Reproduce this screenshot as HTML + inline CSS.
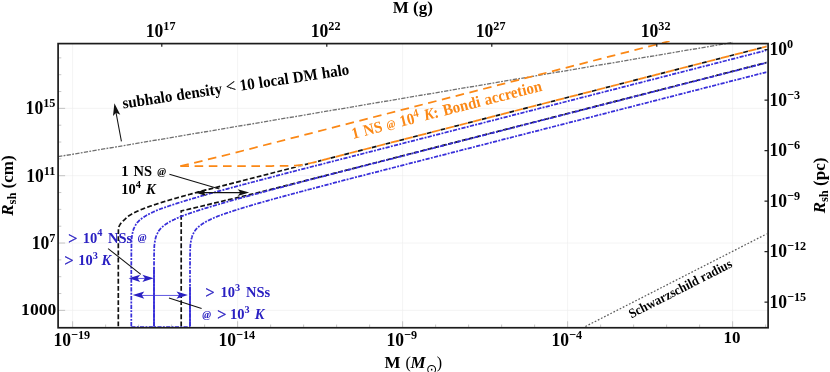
<!DOCTYPE html>
<html><head><meta charset="utf-8"><title>R_sh vs M</title>
<style>
html,body{margin:0;padding:0;background:#fff;}
body{width:830px;height:372px;overflow:hidden;position:relative;font-family:"Liberation Serif",serif;}
</style></head>
<body>
<svg width="830" height="372" viewBox="0 0 830 372" style="display:block;position:absolute;left:0;top:0;will-change:transform">
<g stroke="#ececec" stroke-width="0.6" fill="none"><line x1="72.64" y1="43.6" x2="72.64" y2="327.75"/><line x1="237.64" y1="43.6" x2="237.64" y2="327.75"/><line x1="402.64" y1="43.6" x2="402.64" y2="327.75"/><line x1="567.64" y1="43.6" x2="567.64" y2="327.75"/><line x1="732.64" y1="43.6" x2="732.64" y2="327.75"/><line x1="58.1" y1="310.37" x2="768.1" y2="310.37"/><line x1="58.1" y1="243.04" x2="768.1" y2="243.04"/><line x1="58.1" y1="175.71" x2="768.1" y2="175.71"/><line x1="58.1" y1="108.37" x2="768.1" y2="108.37"/></g>
<g stroke="#999" stroke-width="0.55" fill="none"><line x1="72.64" y1="327.75" x2="72.64" y2="321.25"/><line x1="105.64" y1="327.75" x2="105.64" y2="324.55"/><line x1="138.64" y1="327.75" x2="138.64" y2="324.55"/><line x1="171.64" y1="327.75" x2="171.64" y2="324.55"/><line x1="204.64" y1="327.75" x2="204.64" y2="324.55"/><line x1="237.64" y1="327.75" x2="237.64" y2="321.25"/><line x1="270.64" y1="327.75" x2="270.64" y2="324.55"/><line x1="303.64" y1="327.75" x2="303.64" y2="324.55"/><line x1="336.64" y1="327.75" x2="336.64" y2="324.55"/><line x1="369.64" y1="327.75" x2="369.64" y2="324.55"/><line x1="402.64" y1="327.75" x2="402.64" y2="321.25"/><line x1="435.64" y1="327.75" x2="435.64" y2="324.55"/><line x1="468.64" y1="327.75" x2="468.64" y2="324.55"/><line x1="501.64" y1="327.75" x2="501.64" y2="324.55"/><line x1="534.64" y1="327.75" x2="534.64" y2="324.55"/><line x1="567.64" y1="327.75" x2="567.64" y2="321.25"/><line x1="600.64" y1="327.75" x2="600.64" y2="324.55"/><line x1="633.64" y1="327.75" x2="633.64" y2="324.55"/><line x1="666.64" y1="327.75" x2="666.64" y2="324.55"/><line x1="699.64" y1="327.75" x2="699.64" y2="324.55"/><line x1="732.64" y1="327.75" x2="732.64" y2="321.25"/><line x1="765.64" y1="327.75" x2="765.64" y2="324.55"/><line x1="58.1" y1="310.37" x2="65.10" y2="310.37"/><line x1="58.1" y1="293.54" x2="61.30" y2="293.54"/><line x1="58.1" y1="276.70" x2="61.30" y2="276.70"/><line x1="58.1" y1="259.87" x2="61.30" y2="259.87"/><line x1="58.1" y1="243.04" x2="65.10" y2="243.04"/><line x1="58.1" y1="226.21" x2="61.30" y2="226.21"/><line x1="58.1" y1="209.37" x2="61.30" y2="209.37"/><line x1="58.1" y1="192.54" x2="61.30" y2="192.54"/><line x1="58.1" y1="175.71" x2="65.10" y2="175.71"/><line x1="58.1" y1="158.87" x2="61.30" y2="158.87"/><line x1="58.1" y1="142.04" x2="61.30" y2="142.04"/><line x1="58.1" y1="125.21" x2="61.30" y2="125.21"/><line x1="58.1" y1="108.37" x2="65.10" y2="108.37"/><line x1="58.1" y1="91.54" x2="61.30" y2="91.54"/><line x1="58.1" y1="74.71" x2="61.30" y2="74.71"/><line x1="58.1" y1="57.88" x2="61.30" y2="57.88"/></g>
<g font-family="'Liberation Serif', serif" font-weight="bold" fill="#000">
<text transform="translate(123.20,108.50) rotate(-8.55) scale(1,1.07)" text-anchor="start" font-size="15.1" style="word-spacing:0.35px">subhalo density <tspan font-weight="normal" font-size="17.5" stroke="#000" stroke-width="0.15">&lt;</tspan> 10 local DM halo</text>
<text transform="translate(353.00,139.00) rotate(-14.3) scale(1,1.07)" text-anchor="start" font-size="15.0" fill="#fb8816" style="word-spacing:0.9px">1 NS <tspan font-style="italic" font-size="10.6" dy="-1.1">@</tspan><tspan dy="1.1">​</tspan> 10<tspan font-size="10.8" dy="-5.42">4</tspan><tspan dy="5.42">​</tspan> <tspan font-style="italic">K</tspan>: Bondi accretion</text>
<text transform="translate(121.20,176.00) scale(1,1.04)" text-anchor="start" font-size="14.5" style="word-spacing:1.5px">1 NS <tspan font-style="italic" font-size="10.6" dy="-1.1">@</tspan><tspan dy="1.1">​</tspan></text>
<text transform="translate(121.20,194.00) scale(1,1.04)" text-anchor="start" font-size="14.5" style="word-spacing:1.6px">10<tspan font-size="10.3" dy="-5.87">4</tspan><tspan dy="5.87">​</tspan> <tspan font-style="italic">K</tspan></text>
<text transform="translate(68.20,242.60) scale(1,1.04)" text-anchor="start" font-size="14.5" fill="#2a20c2" style="word-spacing:1.9px"><tspan font-weight="normal" font-size="16.1" dy="0.9" stroke="#2a20c2" stroke-width="0.4">&gt;</tspan><tspan dy="-0.9">​</tspan> 10<tspan font-size="10.3" dy="-5.87">4</tspan><tspan dy="5.87">​</tspan> NSs <tspan font-style="italic" font-size="10.6" dy="-1.1">@</tspan><tspan dy="1.1">​</tspan></text>
<text transform="translate(64.60,264.80) scale(1,1.04)" text-anchor="start" font-size="14.5" fill="#2a20c2" style="word-spacing:0.9px"><tspan font-weight="normal" font-size="16.1" dy="0.9" stroke="#2a20c2" stroke-width="0.4">&gt;</tspan><tspan dy="-0.9">​</tspan> 10<tspan font-size="10.3" dy="-5.87">3</tspan><tspan dy="5.87">​</tspan> <tspan font-style="italic" dx="-0.8">K</tspan></text>
<text transform="translate(205.60,297.40) scale(1,1.04)" text-anchor="start" font-size="14.5" fill="#2a20c2" style="word-spacing:2.2px"><tspan font-weight="normal" font-size="16.1" dy="0.9" stroke="#2a20c2" stroke-width="0.4">&gt;</tspan><tspan dy="-0.9">​</tspan> 10<tspan font-size="10.3" dy="-5.87">3</tspan><tspan dy="5.87">​</tspan> NSs</text>
<text transform="translate(202.30,319.00) scale(1,1.04)" text-anchor="start" font-size="14.5" fill="#2a20c2" style="word-spacing:1.0px"><tspan font-style="italic" font-size="10.6" dy="-1.1">@</tspan><tspan dy="1.1">​</tspan><tspan dx="1.6"> </tspan><tspan font-weight="normal" font-size="16.1" dy="0.9" stroke="#2a20c2" stroke-width="0.4">&gt;</tspan><tspan dy="-0.9">​</tspan><tspan dx="-1.0"> </tspan>10<tspan font-size="10.3" dy="-5.87">3</tspan><tspan dy="5.87">​</tspan> <tspan font-style="italic" dx="0.4">K</tspan></text>
<text transform="translate(631.40,318.40) rotate(-27.0) scale(1,1.07)" text-anchor="start" font-size="12.5">Schwarzschild radius</text>
</g>
<defs><clipPath id="clip"><rect x="58.1" y="41.0" width="708.3" height="286.75"/></clipPath></defs>
<g clip-path="url(#clip)" fill="none">
<path d="M58.1,156.70 L733,42.44" stroke="#707070" stroke-width="1.3" stroke-dasharray="4.3 1.3 1.8 1.3"/>
<path d="M585.4,326.5 L768.1,233.2" stroke="#5c5c5c" stroke-width="1.25" stroke-dasharray="1.7 1.8"/>
<path d="M118.30,326.30 L118.30,252.45 L118.30,251.69 L118.30,250.95 L118.30,250.21 L118.30,249.48 L118.31,248.76 L118.31,248.05 L118.31,247.35 L118.31,246.66 L118.31,245.98 L118.31,245.31 L118.32,244.66 L118.32,244.02 L118.32,243.39 L118.32,242.78 L118.32,242.18 L118.33,241.60 L118.33,241.03 L118.33,240.47 L118.33,239.94 L118.33,239.42 L118.34,238.91 L118.34,238.43 L118.34,237.96 L118.34,237.51 L118.35,237.08 L118.35,236.67 L118.35,236.28 L118.35,235.90 L118.36,235.53 L118.36,235.17 L118.36,234.81 L118.36,234.46 L118.37,234.12 L118.37,233.79 L118.37,233.47 L118.37,233.15 L118.38,232.85 L118.38,232.55 L118.38,232.25 L118.39,231.97 L118.39,231.69 L118.39,231.41 L118.40,231.15 L118.40,230.89 L118.40,230.64 L118.41,230.39 L118.41,230.16 L118.42,229.92 L118.42,229.70 L118.43,229.48 L118.44,229.26 L118.44,229.05 L118.45,228.85 L118.46,228.65 L118.47,228.46 L118.50,228.26 L118.53,228.07 L118.56,227.88 L118.61,227.69 L118.65,227.50 L118.71,227.31 L118.76,227.13 L118.82,226.95 L118.89,226.77 L118.96,226.60 L119.03,226.43 L119.10,226.26 L119.18,226.09 L119.25,225.93 L119.33,225.77 L119.41,225.61 L119.49,225.46 L119.57,225.31 L119.65,225.16 L119.73,225.02 L119.81,224.88 L119.89,224.75 L119.97,224.61 L120.04,224.49 L120.11,224.36 L120.19,224.24 L120.26,224.13 L120.34,224.01 L120.41,223.89 L120.49,223.78 L120.57,223.67 L120.65,223.56 L120.74,223.45 L120.82,223.35 L120.90,223.24 L120.99,223.14 L121.07,223.04 L121.16,222.94 L121.24,222.84 L121.33,222.75 L121.42,222.65 L121.50,222.56 L121.59,222.46 L121.68,222.37 L121.76,222.28 L121.85,222.19 L121.93,222.10 L122.02,222.01 L122.10,221.93 L122.19,221.84 L122.27,221.76 L122.35,221.68 L122.43,221.59 L122.50,221.52 L122.58,221.44 L122.65,221.37 L122.73,221.30 L122.80,221.23 L122.87,221.16 L122.95,221.09 L123.02,221.03 L123.09,220.96 L123.16,220.90 L123.23,220.83 L123.31,220.77 L123.38,220.70 L123.45,220.64 L123.53,220.57 L123.61,220.50 L123.69,220.43 L123.77,220.36 L123.85,220.29 L123.93,220.21 L124.02,220.13 L124.11,220.05 L124.21,219.97 L124.30,219.88 L124.40,219.79 L124.50,219.69 L124.62,219.58 L124.74,219.47 L124.87,219.34 L125.00,219.21 L125.14,219.08 L125.28,218.94 L125.43,218.79 L125.58,218.65 L125.73,218.50 L125.89,218.34 L126.04,218.19 L126.20,218.04 L126.36,217.88 L126.52,217.73 L126.68,217.58 L126.83,217.44 L126.98,217.29 L127.13,217.16 L127.28,217.02 L127.42,216.90 L127.56,216.78 L127.69,216.67 L127.81,216.56 L127.93,216.47 L128.04,216.38 L128.14,216.31 L128.24,216.24 L128.33,216.18 L128.42,216.12 L128.50,216.06 L128.58,216.01 L128.66,215.96 L128.73,215.91 L128.80,215.86 L128.87,215.81 L128.94,215.77 L129.01,215.73 L129.08,215.68 L129.14,215.64 L129.21,215.60 L129.28,215.56 L129.35,215.52 L129.42,215.48 L129.49,215.43 L129.57,215.39 L129.64,215.34 L129.72,215.29 L129.80,215.24 L129.89,215.19 L129.98,215.13 L130.08,215.08 L130.18,215.02 L130.28,214.95 L130.40,214.88 L130.51,214.81 L130.63,214.74 L130.75,214.66 L130.88,214.59 L131.01,214.51 L131.15,214.42 L131.29,214.34 L131.43,214.25 L131.58,214.17 L131.73,214.08 L131.88,213.99 L132.04,213.89 L132.20,213.80 L132.36,213.71 L132.53,213.61 L132.70,213.52 L132.87,213.42 L133.04,213.32 L133.22,213.22 L133.40,213.13 L133.58,213.03 L133.77,212.93 L133.96,212.83 L134.15,212.73 L134.34,212.63 L134.54,212.53 L134.74,212.43 L134.95,212.33 L135.17,212.22 L135.39,212.12 L135.61,212.01 L135.85,211.90 L136.09,211.79 L136.33,211.68 L136.58,211.56 L136.83,211.45 L137.08,211.33 L137.34,211.21 L137.61,211.10 L137.88,210.98 L138.15,210.86 L138.42,210.74 L138.70,210.62 L138.98,210.50 L139.26,210.38 L139.54,210.26 L139.83,210.14 L140.11,210.02 L140.40,209.90 L140.69,209.78 L140.98,209.66 L141.28,209.54 L141.58,209.42 L141.90,209.29 L142.23,209.16 L142.56,209.02 L142.91,208.89 L143.26,208.75 L143.62,208.61 L143.98,208.47 L144.34,208.33 L144.71,208.19 L145.08,208.04 L145.46,207.90 L145.83,207.76 L146.20,207.62 L146.56,207.49 L146.92,207.35 L147.28,207.22 L147.63,207.09 L147.98,206.96 L148.31,206.84 L148.64,206.72 L148.96,206.61 L149.26,206.50 L149.56,206.40 L149.84,206.30 L150.10,206.21 L150.35,206.12 L150.59,206.04 L150.82,205.96 L151.05,205.89 L151.26,205.81 L151.47,205.75 L151.67,205.68 L151.87,205.61 L152.06,205.55 L152.24,205.49 L152.43,205.43 L152.61,205.37 L152.80,205.31 L152.98,205.25 L153.16,205.19 L153.34,205.13 L153.53,205.07 L153.72,205.01 L153.91,204.95 L154.11,204.88 L154.31,204.82 L154.52,204.75 L154.74,204.68 L154.97,204.61 L155.20,204.53 L155.45,204.45 L155.70,204.37 L155.97,204.28 L156.26,204.19 L156.55,204.09 L156.86,203.99 L157.17,203.88 L157.50,203.78 L157.83,203.67 L158.18,203.55 L158.53,203.44 L158.88,203.32 L159.24,203.21 L159.60,203.09 L159.97,202.97 L160.33,202.85 L160.70,202.73 L161.07,202.61 L161.44,202.49 L161.80,202.38 L162.17,202.26 L162.52,202.14 L162.88,202.03 L163.22,201.92 L163.57,201.82 L163.90,201.71 L164.22,201.61 L164.54,201.51 L164.84,201.42 L165.14,201.33 L165.43,201.24 L165.72,201.16 L166.00,201.07 L166.27,200.99 L166.54,200.91 L166.81,200.83 L167.07,200.75 L167.34,200.67 L167.60,200.59 L167.86,200.52 L168.12,200.44 L168.38,200.36 L168.64,200.28 L168.91,200.20 L169.18,200.13 L169.45,200.05 L169.72,199.97 L170.01,199.88 L170.29,199.80 L170.58,199.72 L170.88,199.63 L171.19,199.54 L171.51,199.45 L171.83,199.35 L172.17,199.26 L172.51,199.16 L172.85,199.06 L173.20,198.96 L173.55,198.86 L173.91,198.75 L174.28,198.65 L174.64,198.54 L175.02,198.44 L175.40,198.33 L175.79,198.22 L176.18,198.11 L176.58,197.99 L176.99,197.88 L177.40,197.76 L177.83,197.64 L178.26,197.52 L178.70,197.39 L179.14,197.27 L179.60,197.14 L180.07,197.01 L180.55,196.87 L181.03,196.74 L181.53,196.60 L182.04,196.46 L182.56,196.32 L183.08,196.17 L183.63,196.02 L184.19,195.86 L184.77,195.70 L185.37,195.54 L185.98,195.37 L186.62,195.20 L187.27,195.02 L187.94,194.84 L188.62,194.65 L189.32,194.46 L190.04,194.26 L190.77,194.07 L191.51,193.86 L192.27,193.66 L193.05,193.45 L193.84,193.24 L194.64,193.02 L195.45,192.80 L196.28,192.58 L197.12,192.35 L197.97,192.12 L198.83,191.89 L199.71,191.65 L200.59,191.42 L201.48,191.18 L202.39,190.93 L203.30,190.69 L318.00,161.33" stroke="#111" stroke-width="1.7" stroke-dasharray="4.85 2.25"/>
<path d="M318.00,161.33 L768.1,46.1" stroke="#111" stroke-width="1.7" stroke-dasharray="4.85 2.25" stroke-dashoffset="1.266"/>
<path d="M181.2,326.3 L181.2,211 L262,191.76 L768.1,62.20" stroke="#111" stroke-width="1.7" stroke-dasharray="4.85 2.25" stroke-linejoin="miter"/>
<path d="M131.30,326.30 L131.30,272.92 L131.30,271.75 L131.30,270.59 L131.30,269.45 L131.30,268.33 L131.30,267.21 L131.31,266.12 L131.31,265.04 L131.31,263.99 L131.31,262.95 L131.31,261.92 L131.32,260.92 L131.32,259.94 L131.32,258.98 L131.33,258.04 L131.33,257.12 L131.33,256.22 L131.34,255.35 L131.34,254.50 L131.35,253.67 L131.35,252.87 L131.36,252.08 L131.36,251.29 L131.37,250.50 L131.38,249.72 L131.38,248.94 L131.39,248.18 L131.41,247.43 L131.42,246.69 L131.43,245.97 L131.44,245.27 L131.46,244.59 L131.47,243.93 L131.49,243.30 L131.50,242.70 L131.52,242.13 L131.53,241.59 L131.55,241.08 L131.57,240.62 L131.58,240.19 L131.60,239.81 L131.62,239.45 L131.64,239.12 L131.66,238.80 L131.68,238.50 L131.71,238.22 L131.73,237.94 L131.76,237.68 L131.79,237.43 L131.82,237.19 L131.85,236.96 L131.88,236.73 L131.91,236.50 L131.95,236.28 L131.98,236.06 L132.02,235.83 L132.05,235.61 L132.09,235.38 L132.13,235.14 L132.17,234.90 L132.21,234.65 L132.25,234.39 L132.30,234.13 L132.35,233.86 L132.40,233.59 L132.46,233.31 L132.51,233.03 L132.58,232.76 L132.64,232.48 L132.70,232.20 L132.77,231.93 L132.83,231.66 L132.90,231.40 L132.97,231.15 L133.03,230.90 L133.10,230.66 L133.17,230.43 L133.23,230.22 L133.29,230.01 L133.35,229.82 L133.41,229.65 L133.47,229.49 L133.52,229.33 L133.58,229.18 L133.63,229.04 L133.68,228.91 L133.73,228.78 L133.78,228.66 L133.83,228.54 L133.88,228.42 L133.93,228.30 L133.99,228.19 L134.04,228.07 L134.09,227.96 L134.15,227.84 L134.20,227.72 L134.26,227.60 L134.32,227.47 L134.38,227.34 L134.45,227.21 L134.52,227.07 L134.59,226.92 L134.66,226.77 L134.74,226.61 L134.82,226.45 L134.90,226.29 L134.98,226.12 L135.07,225.95 L135.15,225.78 L135.24,225.61 L135.33,225.44 L135.43,225.27 L135.52,225.10 L135.62,224.93 L135.72,224.76 L135.82,224.59 L135.92,224.42 L136.02,224.26 L136.12,224.10 L136.23,223.95 L136.33,223.80 L136.44,223.64 L136.55,223.49 L136.67,223.34 L136.78,223.19 L136.91,223.04 L137.03,222.89 L137.15,222.74 L137.28,222.59 L137.41,222.45 L137.54,222.30 L137.67,222.16 L137.80,222.01 L137.94,221.87 L138.07,221.74 L138.20,221.60 L138.33,221.47 L138.46,221.33 L138.59,221.21 L138.72,221.08 L138.84,220.96 L138.97,220.84 L139.08,220.73 L139.20,220.62 L139.31,220.52 L139.42,220.41 L139.53,220.31 L139.64,220.21 L139.75,220.12 L139.87,220.02 L139.98,219.92 L140.10,219.82 L140.22,219.73 L140.34,219.62 L140.47,219.52 L140.60,219.41 L140.74,219.30 L140.89,219.19 L141.04,219.07 L141.20,218.94 L141.37,218.81 L141.56,218.66 L141.77,218.50 L142.01,218.33 L142.26,218.15 L142.52,217.96 L142.79,217.77 L143.08,217.57 L143.37,217.37 L143.67,217.16 L143.98,216.96 L144.28,216.76 L144.58,216.56 L144.88,216.36 L145.18,216.17 L145.46,215.99 L145.74,215.82 L146.00,215.65 L146.25,215.51 L146.48,215.37 L146.69,215.25 L146.89,215.14 L147.08,215.04 L147.26,214.94 L147.42,214.85 L147.59,214.77 L147.74,214.68 L147.89,214.60 L148.04,214.53 L148.19,214.45 L148.34,214.38 L148.49,214.30 L148.65,214.22 L148.81,214.14 L148.98,214.06 L149.15,213.97 L149.34,213.88 L149.54,213.78 L149.75,213.68 L149.98,213.57 L150.23,213.45 L150.50,213.31 L150.81,213.16 L151.15,213.00 L151.52,212.82 L151.90,212.64 L152.31,212.44 L152.73,212.24 L153.16,212.04 L153.61,211.83 L154.06,211.62 L154.51,211.41 L154.97,211.21 L155.42,211.00 L155.87,210.80 L156.31,210.61 L156.74,210.42 L157.16,210.24 L157.56,210.08 L157.94,209.92 L158.30,209.78 L158.65,209.65 L158.99,209.51 L159.33,209.38 L159.67,209.26 L160.00,209.13 L160.33,209.01 L160.65,208.89 L160.98,208.77 L161.29,208.66 L161.61,208.54 L161.92,208.43 L162.23,208.32 L162.54,208.21 L162.85,208.10 L163.16,207.99 L163.46,207.89 L163.77,207.78 L164.07,207.67 L164.38,207.56 L164.68,207.46 L164.98,207.35 L165.27,207.25 L165.55,207.15 L165.83,207.06 L166.10,206.96 L166.38,206.87 L166.65,206.77 L166.92,206.68 L167.19,206.59 L167.46,206.49 L167.74,206.40 L168.02,206.30 L168.30,206.21 L168.59,206.11 L168.89,206.01 L169.20,205.91 L169.51,205.80 L169.84,205.69 L170.18,205.58 L170.53,205.46 L170.90,205.34 L171.29,205.21 L171.69,205.07 L172.11,204.94 L172.53,204.80 L172.97,204.65 L173.42,204.50 L173.87,204.36 L174.33,204.21 L174.80,204.06 L175.26,203.90 L175.73,203.75 L176.20,203.60 L176.66,203.45 L177.12,203.31 L177.57,203.16 L178.01,203.02 L178.45,202.88 L178.87,202.75 L179.29,202.62 L179.71,202.49 L180.12,202.36 L180.54,202.23 L180.95,202.10 L181.36,201.97 L181.77,201.85 L182.18,201.72 L182.59,201.60 L182.99,201.47 L183.39,201.35 L183.79,201.23 L184.18,201.11 L184.57,200.99 L184.96,200.87 L185.34,200.76 L185.72,200.64 L186.09,200.53 L186.45,200.42 L186.81,200.31 L187.16,200.21 L187.50,200.11 L187.83,200.01 L188.16,199.91 L188.47,199.82 L188.78,199.73 L189.08,199.64 L189.38,199.55 L189.68,199.46 L189.98,199.37 L190.28,199.29 L190.58,199.20 L190.89,199.11 L191.20,199.02 L191.51,198.92 L191.83,198.83 L192.17,198.73 L192.51,198.63 L192.86,198.53 L193.23,198.42 L193.60,198.31 L193.97,198.20 L194.35,198.09 L194.73,197.97 L195.11,197.86 L195.50,197.74 L195.90,197.63 L196.30,197.50 L196.71,197.38 L197.13,197.26 L197.57,197.13 L198.01,196.99 L198.47,196.86 L198.95,196.72 L199.44,196.57 L199.96,196.42 L200.49,196.27 L201.04,196.11 L201.61,195.94 L202.21,195.77 L202.84,195.59 L203.51,195.40 L204.23,195.20 L204.99,194.98 L205.78,194.76 L206.62,194.52 L207.49,194.28 L208.39,194.03 L209.33,193.77 L210.30,193.50 L211.29,193.23 L212.31,192.94 L213.35,192.66 L214.42,192.36 L215.51,192.06 L216.61,191.76 L217.74,191.45 L218.87,191.14 L220.02,190.83 L221.18,190.51 L222.37,190.19 L223.60,189.86 L224.87,189.51 L226.18,189.16 L227.53,188.79 L228.92,188.42 L230.34,188.04 L231.80,187.65 L233.29,187.25 L234.81,186.84 L236.35,186.43 L237.93,186.01 L239.52,185.58 L241.14,185.15 L242.78,184.71 L244.44,184.27 L246.11,183.83 L247.80,183.38 L249.50,182.93 L251.21,182.47 L252.95,182.02 L254.71,181.55 L256.51,181.08 L258.33,180.59 L260.19,180.10 L262.08,179.61 L263.99,179.10 L265.94,178.59 L267.91,178.08 L269.91,177.55 L271.94,177.02 L273.99,176.48 L276.07,175.94 L278.17,175.39 L280.30,174.83 L282.46,174.27 L284.63,173.70 L286.83,173.13 L289.06,172.55 L291.30,171.96 L768.10,49.90" stroke="#382fda" stroke-width="1.75" stroke-dasharray="4.2 1.3 1.9 1.3"/>
<path d="M154.00,326.30 L154.00,279.61 L154.00,278.44 L154.00,277.28 L154.00,276.14 L154.00,275.01 L154.00,273.90 L154.01,272.81 L154.01,271.73 L154.01,270.67 L154.01,269.63 L154.01,268.61 L154.02,267.61 L154.02,266.63 L154.02,265.67 L154.03,264.73 L154.03,263.81 L154.03,262.91 L154.04,262.04 L154.04,261.19 L154.05,260.36 L154.05,259.56 L154.06,258.77 L154.06,257.98 L154.07,257.19 L154.08,256.41 L154.08,255.63 L154.09,254.87 L154.11,254.11 L154.12,253.38 L154.13,252.66 L154.14,251.95 L154.16,251.27 L154.17,250.62 L154.19,249.99 L154.20,249.39 L154.22,248.81 L154.23,248.28 L154.25,247.77 L154.27,247.31 L154.28,246.88 L154.30,246.50 L154.32,246.14 L154.34,245.81 L154.36,245.49 L154.38,245.19 L154.41,244.90 L154.43,244.63 L154.46,244.37 L154.49,244.12 L154.52,243.88 L154.55,243.64 L154.58,243.41 L154.61,243.19 L154.65,242.97 L154.68,242.74 L154.72,242.52 L154.75,242.30 L154.79,242.07 L154.83,241.83 L154.87,241.59 L154.91,241.34 L154.95,241.08 L155.00,240.82 L155.05,240.55 L155.10,240.28 L155.16,240.00 L155.21,239.72 L155.28,239.44 L155.34,239.17 L155.40,238.89 L155.47,238.62 L155.53,238.35 L155.60,238.09 L155.67,237.83 L155.73,237.59 L155.80,237.35 L155.87,237.12 L155.93,236.91 L155.99,236.70 L156.05,236.51 L156.11,236.34 L156.17,236.18 L156.22,236.02 L156.28,235.87 L156.33,235.73 L156.38,235.60 L156.43,235.47 L156.48,235.35 L156.53,235.23 L156.58,235.11 L156.63,234.99 L156.69,234.88 L156.74,234.76 L156.79,234.65 L156.85,234.53 L156.90,234.41 L156.96,234.29 L157.02,234.16 L157.08,234.03 L157.15,233.90 L157.22,233.75 L157.29,233.61 L157.36,233.45 L157.44,233.30 L157.52,233.14 L157.60,232.97 L157.68,232.81 L157.77,232.64 L157.85,232.47 L157.94,232.30 L158.03,232.13 L158.13,231.96 L158.22,231.79 L158.32,231.61 L158.42,231.45 L158.52,231.28 L158.62,231.11 L158.72,230.95 L158.82,230.79 L158.93,230.64 L159.03,230.48 L159.14,230.33 L159.25,230.18 L159.37,230.03 L159.48,229.88 L159.61,229.73 L159.73,229.58 L159.85,229.43 L159.98,229.28 L160.11,229.14 L160.24,228.99 L160.37,228.85 L160.50,228.70 L160.64,228.56 L160.77,228.42 L160.90,228.29 L161.03,228.15 L161.16,228.02 L161.29,227.89 L161.42,227.77 L161.54,227.65 L161.67,227.53 L161.78,227.42 L161.90,227.31 L162.01,227.20 L162.12,227.10 L162.23,227.00 L162.34,226.90 L162.45,226.81 L162.57,226.71 L162.68,226.61 L162.80,226.51 L162.92,226.41 L163.04,226.31 L163.17,226.21 L163.30,226.10 L163.44,225.99 L163.59,225.87 L163.74,225.75 L163.90,225.63 L164.07,225.50 L164.26,225.35 L164.47,225.19 L164.71,225.02 L164.96,224.84 L165.22,224.65 L165.49,224.46 L165.78,224.26 L166.07,224.06 L166.37,223.85 L166.68,223.65 L166.98,223.44 L167.28,223.24 L167.58,223.05 L167.88,222.86 L168.16,222.68 L168.44,222.50 L168.70,222.34 L168.95,222.19 L169.18,222.06 L169.39,221.94 L169.59,221.83 L169.78,221.73 L169.96,221.63 L170.12,221.54 L170.29,221.45 L170.44,221.37 L170.59,221.29 L170.74,221.22 L170.89,221.14 L171.04,221.06 L171.19,220.99 L171.35,220.91 L171.51,220.83 L171.68,220.75 L171.85,220.66 L172.04,220.57 L172.24,220.47 L172.45,220.37 L172.68,220.26 L172.93,220.13 L173.20,220.00 L173.51,219.85 L173.85,219.68 L174.22,219.51 L174.60,219.32 L175.01,219.13 L175.43,218.93 L175.86,218.73 L176.31,218.52 L176.76,218.31 L177.21,218.10 L177.67,217.90 L178.12,217.69 L178.57,217.49 L179.01,217.30 L179.44,217.11 L179.86,216.93 L180.26,216.77 L180.64,216.61 L181.00,216.47 L181.35,216.34 L181.69,216.20 L182.03,216.07 L182.37,215.95 L182.70,215.82 L183.03,215.70 L183.35,215.58 L183.68,215.46 L183.99,215.35 L184.31,215.23 L184.62,215.12 L184.93,215.01 L185.24,214.90 L185.55,214.79 L185.86,214.68 L186.16,214.57 L186.47,214.47 L186.77,214.36 L187.08,214.25 L187.38,214.15 L187.68,214.04 L187.97,213.94 L188.25,213.84 L188.53,213.75 L188.80,213.65 L189.08,213.56 L189.35,213.46 L189.62,213.37 L189.89,213.28 L190.16,213.18 L190.44,213.09 L190.72,212.99 L191.00,212.90 L191.29,212.80 L191.59,212.70 L191.90,212.60 L192.21,212.49 L192.54,212.38 L192.88,212.27 L193.23,212.15 L193.60,212.03 L193.99,211.90 L194.39,211.76 L194.81,211.63 L195.23,211.48 L195.67,211.34 L196.12,211.19 L196.57,211.05 L197.03,210.90 L197.50,210.74 L197.96,210.59 L198.43,210.44 L198.90,210.29 L199.36,210.14 L199.82,210.00 L200.27,209.85 L200.71,209.71 L201.15,209.57 L201.57,209.44 L201.99,209.31 L202.41,209.18 L202.82,209.05 L203.24,208.92 L203.65,208.79 L204.06,208.66 L204.47,208.54 L204.88,208.41 L205.29,208.28 L205.69,208.16 L206.09,208.04 L206.49,207.92 L206.88,207.80 L207.27,207.68 L207.66,207.56 L208.04,207.45 L208.42,207.33 L208.79,207.22 L209.15,207.11 L209.51,207.00 L209.86,206.90 L210.20,206.80 L210.53,206.70 L210.86,206.60 L211.17,206.51 L211.48,206.42 L211.78,206.33 L212.08,206.24 L212.38,206.15 L212.68,206.06 L212.98,205.97 L213.28,205.89 L213.59,205.80 L213.90,205.71 L214.21,205.61 L214.53,205.52 L214.87,205.42 L215.21,205.32 L215.56,205.22 L215.93,205.11 L216.30,205.00 L216.67,204.89 L217.05,204.78 L217.43,204.66 L217.81,204.55 L218.20,204.43 L218.60,204.31 L219.00,204.19 L219.41,204.07 L219.83,203.94 L220.27,203.82 L220.71,203.68 L221.17,203.55 L221.65,203.41 L222.14,203.26 L222.66,203.11 L223.19,202.96 L223.74,202.80 L224.31,202.63 L224.91,202.46 L225.54,202.28 L226.21,202.09 L226.93,201.89 L227.69,201.67 L228.48,201.45 L229.32,201.21 L230.19,200.97 L231.09,200.72 L232.03,200.46 L233.00,200.19 L233.99,199.91 L235.01,199.63 L236.05,199.34 L237.12,199.05 L238.21,198.75 L239.31,198.45 L240.44,198.14 L241.57,197.83 L242.72,197.52 L243.88,197.20 L245.07,196.88 L246.30,196.55 L247.57,196.20 L248.88,195.85 L250.23,195.48 L251.62,195.11 L253.04,194.73 L254.50,194.33 L255.99,193.93 L257.51,193.53 L259.05,193.11 L260.63,192.69 L262.22,192.27 L263.84,191.84 L265.48,191.40 L267.14,190.96 L268.81,190.51 L270.50,190.07 L272.20,189.62 L273.91,189.16 L275.65,188.70 L277.41,188.24 L279.21,187.76 L281.03,187.28 L282.89,186.79 L284.78,186.30 L286.69,185.79 L288.64,185.28 L290.61,184.76 L292.61,184.24 L294.64,183.71 L296.69,183.17 L298.77,182.63 L300.87,182.08 L303.00,181.52 L305.16,180.96 L307.33,180.39 L309.53,179.81 L311.76,179.23 L314.00,178.65 L768.10,62.40" stroke="#382fda" stroke-width="1.75" stroke-dasharray="4.2 1.3 1.9 1.3"/>
<path d="M190.00,326.30 L190.00,279.69 L190.00,278.52 L190.00,277.37 L190.00,276.22 L190.00,275.10 L190.00,273.99 L190.01,272.89 L190.01,271.82 L190.01,270.76 L190.01,269.72 L190.01,268.70 L190.02,267.69 L190.02,266.71 L190.02,265.75 L190.03,264.81 L190.03,263.89 L190.03,262.99 L190.04,262.12 L190.04,261.27 L190.05,260.44 L190.05,259.64 L190.06,258.85 L190.06,258.06 L190.07,257.27 L190.08,256.49 L190.08,255.72 L190.09,254.95 L190.11,254.20 L190.12,253.46 L190.13,252.74 L190.14,252.04 L190.16,251.36 L190.17,250.70 L190.19,250.07 L190.20,249.47 L190.22,248.90 L190.23,248.36 L190.25,247.86 L190.27,247.39 L190.28,246.96 L190.30,246.58 L190.32,246.23 L190.34,245.89 L190.36,245.57 L190.38,245.27 L190.41,244.99 L190.43,244.72 L190.46,244.46 L190.49,244.20 L190.52,243.96 L190.55,243.73 L190.58,243.50 L190.61,243.27 L190.65,243.05 L190.68,242.83 L190.72,242.61 L190.75,242.38 L190.79,242.15 L190.83,241.92 L190.87,241.67 L190.91,241.43 L190.95,241.17 L191.00,240.90 L191.05,240.63 L191.10,240.36 L191.16,240.08 L191.21,239.81 L191.28,239.53 L191.34,239.25 L191.40,238.98 L191.47,238.70 L191.53,238.44 L191.60,238.17 L191.67,237.92 L191.73,237.67 L191.80,237.43 L191.87,237.21 L191.93,236.99 L191.99,236.79 L192.05,236.60 L192.11,236.42 L192.17,236.26 L192.22,236.10 L192.28,235.96 L192.33,235.82 L192.38,235.68 L192.43,235.56 L192.48,235.43 L192.53,235.31 L192.58,235.19 L192.63,235.08 L192.69,234.96 L192.74,234.85 L192.79,234.73 L192.85,234.61 L192.90,234.50 L192.96,234.37 L193.02,234.25 L193.08,234.12 L193.15,233.98 L193.22,233.84 L193.29,233.69 L193.36,233.54 L193.44,233.38 L193.52,233.22 L193.60,233.06 L193.68,232.89 L193.77,232.72 L193.85,232.55 L193.94,232.38 L194.03,232.21 L194.13,232.04 L194.22,231.87 L194.32,231.70 L194.42,231.53 L194.52,231.36 L194.62,231.20 L194.72,231.03 L194.82,230.88 L194.93,230.72 L195.03,230.57 L195.14,230.42 L195.25,230.27 L195.37,230.12 L195.48,229.97 L195.61,229.81 L195.73,229.66 L195.85,229.52 L195.98,229.37 L196.11,229.22 L196.24,229.07 L196.37,228.93 L196.50,228.79 L196.64,228.65 L196.77,228.51 L196.90,228.37 L197.03,228.24 L197.16,228.11 L197.29,227.98 L197.42,227.85 L197.54,227.73 L197.67,227.61 L197.78,227.50 L197.90,227.39 L198.01,227.29 L198.12,227.19 L198.23,227.09 L198.34,226.99 L198.45,226.89 L198.57,226.79 L198.68,226.70 L198.80,226.60 L198.92,226.50 L199.04,226.40 L199.17,226.29 L199.30,226.19 L199.44,226.07 L199.59,225.96 L199.74,225.84 L199.90,225.71 L200.07,225.58 L200.26,225.43 L200.47,225.27 L200.71,225.10 L200.96,224.92 L201.22,224.74 L201.49,224.54 L201.78,224.34 L202.07,224.14 L202.37,223.94 L202.68,223.73 L202.98,223.53 L203.28,223.33 L203.58,223.13 L203.88,222.94 L204.16,222.76 L204.44,222.59 L204.70,222.43 L204.95,222.28 L205.18,222.14 L205.39,222.02 L205.59,221.91 L205.78,221.81 L205.96,221.71 L206.12,221.62 L206.29,221.54 L206.44,221.46 L206.59,221.38 L206.74,221.30 L206.89,221.22 L207.04,221.15 L207.19,221.07 L207.35,220.99 L207.51,220.92 L207.68,220.83 L207.85,220.75 L208.04,220.65 L208.24,220.56 L208.45,220.45 L208.68,220.34 L208.93,220.22 L209.20,220.08 L209.51,219.93 L209.85,219.77 L210.22,219.59 L210.60,219.41 L211.01,219.22 L211.43,219.02 L211.86,218.81 L212.31,218.61 L212.76,218.40 L213.21,218.19 L213.67,217.98 L214.12,217.77 L214.57,217.57 L215.01,217.38 L215.44,217.19 L215.86,217.02 L216.26,216.85 L216.64,216.70 L217.00,216.56 L217.35,216.42 L217.69,216.29 L218.03,216.16 L218.37,216.03 L218.70,215.91 L219.03,215.78 L219.35,215.66 L219.68,215.55 L219.99,215.43 L220.31,215.32 L220.62,215.20 L220.93,215.09 L221.24,214.98 L221.55,214.87 L221.86,214.77 L222.16,214.66 L222.47,214.55 L222.77,214.44 L223.08,214.34 L223.38,214.23 L223.68,214.13 L223.97,214.03 L224.25,213.93 L224.53,213.83 L224.80,213.73 L225.08,213.64 L225.35,213.55 L225.62,213.45 L225.89,213.36 L226.16,213.27 L226.44,213.17 L226.72,213.08 L227.00,212.98 L227.29,212.88 L227.59,212.78 L227.90,212.68 L228.21,212.57 L228.54,212.46 L228.88,212.35 L229.23,212.23 L229.60,212.11 L229.99,211.98 L230.39,211.85 L230.81,211.71 L231.23,211.57 L231.67,211.42 L232.12,211.28 L232.57,211.13 L233.03,210.98 L233.50,210.83 L233.96,210.68 L234.43,210.53 L234.90,210.38 L235.36,210.23 L235.82,210.08 L236.27,209.94 L236.71,209.79 L237.15,209.66 L237.57,209.52 L237.99,209.39 L238.41,209.26 L238.82,209.13 L239.24,209.00 L239.65,208.87 L240.06,208.75 L240.47,208.62 L240.88,208.49 L241.29,208.37 L241.69,208.24 L242.09,208.12 L242.49,208.00 L242.88,207.88 L243.27,207.76 L243.66,207.64 L244.04,207.53 L244.42,207.42 L244.79,207.30 L245.15,207.19 L245.51,207.09 L245.86,206.98 L246.20,206.88 L246.53,206.78 L246.86,206.69 L247.17,206.59 L247.48,206.50 L247.78,206.41 L248.08,206.32 L248.38,206.23 L248.68,206.15 L248.98,206.06 L249.28,205.97 L249.59,205.88 L249.90,205.79 L250.21,205.70 L250.53,205.60 L250.87,205.51 L251.21,205.41 L251.56,205.30 L251.93,205.19 L252.30,205.08 L252.67,204.97 L253.05,204.86 L253.43,204.75 L253.81,204.63 L254.20,204.52 L254.60,204.40 L255.00,204.28 L255.41,204.15 L255.83,204.03 L256.27,203.90 L256.71,203.77 L257.17,203.63 L257.65,203.49 L258.14,203.35 L258.66,203.20 L259.19,203.04 L259.74,202.88 L260.31,202.72 L260.91,202.54 L261.54,202.36 L262.21,202.17 L262.93,201.97 L263.69,201.76 L264.48,201.53 L265.32,201.30 L266.19,201.05 L267.09,200.80 L268.03,200.54 L269.00,200.27 L269.99,200.00 L271.01,199.72 L272.05,199.43 L273.12,199.13 L274.21,198.84 L275.31,198.53 L276.44,198.23 L277.57,197.91 L278.72,197.60 L279.88,197.29 L281.07,196.96 L282.30,196.63 L283.57,196.29 L284.88,195.93 L286.23,195.57 L287.62,195.19 L289.04,194.81 L290.50,194.42 L291.99,194.02 L293.51,193.61 L295.05,193.20 L296.63,192.78 L298.22,192.35 L299.84,191.92 L301.48,191.48 L303.14,191.04 L304.81,190.60 L306.50,190.15 L308.20,189.70 L309.91,189.25 L311.65,188.79 L313.41,188.32 L315.21,187.85 L317.03,187.37 L318.89,186.88 L320.78,186.38 L322.69,185.88 L324.64,185.37 L326.61,184.85 L328.61,184.32 L330.64,183.79 L332.69,183.25 L334.77,182.71 L336.87,182.16 L339.00,181.60 L341.16,181.04 L343.33,180.47 L345.53,179.90 L347.76,179.32 L350.00,178.73 L768.10,71.70" stroke="#382fda" stroke-width="1.75" stroke-dasharray="4.2 1.3 1.9 1.3"/>
<path d="M131.3,326.75 L190,326.75" stroke="#382fda" stroke-width="1.2" stroke-dasharray="4.2 1.3 1.9 1.3"/>
<path d="M154.0,267.5 L154.0,326.5" stroke="#382fda" stroke-width="1.75"/>
<path d="M190,286.5 L190,326.5" stroke="#382fda" stroke-width="1.75"/>
<path d="M180.40,166.00 L270.00,166.00 L272.00,166.00 L273.00,165.99 L274.00,165.99 L275.00,165.99 L276.00,165.99 L277.00,165.99 L278.00,165.99 L279.00,165.98 L280.00,165.98 L281.00,165.97 L282.00,165.97 L283.00,165.96 L284.00,165.95 L285.00,165.94 L286.00,165.93 L287.00,165.91 L288.00,165.89 L289.00,165.87 L290.00,165.84 L291.00,165.81 L292.00,165.77 L293.00,165.72 L294.00,165.66 L295.00,165.60 L296.00,165.52 L297.00,165.44 L298.00,165.34 L299.00,165.22 L300.00,165.10 L301.00,164.96 L302.00,164.81 L303.00,164.65 L304.00,164.47 L305.00,164.29 L306.00,164.09 L307.00,163.89 L308.00,163.67 L309.00,163.45 L310.00,163.23 L311.00,163.00 L312.00,162.76 L313.00,162.53 L314.00,162.28 L315.00,162.04 L316.00,161.79 L317.00,161.55 L318.00,161.30 L768.1,46.1" stroke="#fff" stroke-width="2.9" stroke-dasharray="8.6 5.6"/>
<path d="M180.40,166.00 L270.00,166.00 L272.00,166.00 L273.00,165.99 L274.00,165.99 L275.00,165.99 L276.00,165.99 L277.00,165.99 L278.00,165.99 L279.00,165.98 L280.00,165.98 L281.00,165.97 L282.00,165.97 L283.00,165.96 L284.00,165.95 L285.00,165.94 L286.00,165.93 L287.00,165.91 L288.00,165.89 L289.00,165.87 L290.00,165.84 L291.00,165.81 L292.00,165.77 L293.00,165.72 L294.00,165.66 L295.00,165.60 L296.00,165.52 L297.00,165.44 L298.00,165.34 L299.00,165.22 L300.00,165.10 L301.00,164.96 L302.00,164.81 L303.00,164.65 L304.00,164.47 L305.00,164.29 L306.00,164.09 L307.00,163.89 L308.00,163.67 L309.00,163.45 L310.00,163.23 L311.00,163.00 L312.00,162.76 L313.00,162.53 L314.00,162.28 L315.00,162.04 L316.00,161.79 L317.00,161.55 L318.00,161.30 L768.1,46.1" stroke="#fb8816" stroke-width="1.75" stroke-dasharray="8.6 5.6"/>
<path d="M180.4,166.0 Q212,158.7 243.7,150.5 L669.5,41.15" stroke="#fb8816" stroke-width="1.75" stroke-dasharray="8.6 5.6"/>
</g>
<rect x="58.1" y="43.6" width="710.0" height="284.15" fill="none" stroke="#1c1c1c" stroke-width="1.7"/>
<g stroke="#1c1c1c" stroke-width="1.2"><line x1="161.79" y1="43.6" x2="161.79" y2="46.80"/><line x1="326.79" y1="43.6" x2="326.79" y2="46.80"/><line x1="491.79" y1="43.6" x2="491.79" y2="46.80"/><line x1="656.79" y1="43.6" x2="656.79" y2="46.80"/><line x1="768.1" y1="49.64" x2="764.50" y2="49.64"/><line x1="768.1" y1="100.14" x2="764.50" y2="100.14"/><line x1="768.1" y1="150.64" x2="764.50" y2="150.64"/><line x1="768.1" y1="201.14" x2="764.50" y2="201.14"/><line x1="768.1" y1="251.63" x2="764.50" y2="251.63"/><line x1="768.1" y1="302.13" x2="764.50" y2="302.13"/></g>
<line x1="121.4" y1="141.4" x2="115.60000000000001" y2="110.3" stroke="#111" stroke-width="1.05"/>
<polygon points="114.40,103.30 120.26,114.73 116.12,112.64 112.98,116.07" fill="#111"/>
<line x1="169.4" y1="174.3" x2="219.5" y2="189.1" stroke="#111" stroke-width="1.05"/>
<line x1="201" y1="192.6" x2="243" y2="192.6" stroke="#111" stroke-width="1.05"/>
<polygon points="194.90,192.60 206.40,189.20 203.80,192.60 206.40,196.00" fill="#111"/>
<polygon points="249.20,192.60 237.70,196.00 240.30,192.60 237.70,189.20" fill="#111"/>
<line x1="136" y1="278.45" x2="146" y2="278.45" stroke="#382fda" stroke-width="0.8"/>
<polygon points="128.60,278.30 140.20,274.70 137.60,278.30 140.20,281.90" fill="#2a20c2"/>
<polygon points="153.70,278.30 142.40,281.90 145.00,278.30 142.40,274.70" fill="#2a20c2"/>
<line x1="140" y1="295.45" x2="180" y2="295.45" stroke="#382fda" stroke-width="0.8"/>
<polygon points="132.70,295.10 144.30,291.40 141.70,295.10 144.30,298.80" fill="#2a20c2"/>
<polygon points="187.90,295.10 176.50,298.80 179.10,295.10 176.50,291.40" fill="#2a20c2"/>
<line x1="108.1" y1="248.6" x2="140.8" y2="274.3" stroke="#111" stroke-width="1.05"/>
<line x1="169" y1="298.1" x2="201.6" y2="308.4" stroke="#111" stroke-width="1.05"/>
<g font-family="'Liberation Serif', serif" font-weight="bold" fill="#000">
<text transform="translate(71.74,345.60) scale(1,1.07)" text-anchor="middle" font-size="17.6">10<tspan font-size="12.2" dy="-6.45">−19</tspan><tspan dy="6.45">​</tspan></text>
<text transform="translate(236.74,345.60) scale(1,1.07)" text-anchor="middle" font-size="17.6">10<tspan font-size="12.2" dy="-6.45">−14</tspan><tspan dy="6.45">​</tspan></text>
<text transform="translate(401.74,345.60) scale(1,1.07)" text-anchor="middle" font-size="17.6">10<tspan font-size="12.2" dy="-6.45">−9</tspan><tspan dy="6.45">​</tspan></text>
<text transform="translate(566.74,345.60) scale(1,1.07)" text-anchor="middle" font-size="17.6">10<tspan font-size="12.2" dy="-6.45">−4</tspan><tspan dy="6.45">​</tspan></text>
<text transform="translate(732.04,343.10) scale(1,1.02)" text-anchor="middle" font-size="17.0">10</text>
<text transform="translate(160.59,37.00) scale(1,1.07)" text-anchor="middle" font-size="17.6">10<tspan font-size="12.2" dy="-6.45">17</tspan><tspan dy="6.45">​</tspan></text>
<text transform="translate(325.59,37.00) scale(1,1.07)" text-anchor="middle" font-size="17.6">10<tspan font-size="12.2" dy="-6.45">22</tspan><tspan dy="6.45">​</tspan></text>
<text transform="translate(490.59,37.00) scale(1,1.07)" text-anchor="middle" font-size="17.6">10<tspan font-size="12.2" dy="-6.45">27</tspan><tspan dy="6.45">​</tspan></text>
<text transform="translate(655.59,37.00) scale(1,1.07)" text-anchor="middle" font-size="17.6">10<tspan font-size="12.2" dy="-6.45">32</tspan><tspan dy="6.45">​</tspan></text>
<text transform="translate(56.30,314.80) scale(1,1.0)" text-anchor="end" font-size="17.6">1000</text>
<text transform="translate(55.40,248.84) scale(1,1.07)" text-anchor="end" font-size="17.6">10<tspan font-size="12.2" dy="-6.45">7</tspan><tspan dy="6.45">​</tspan></text>
<text transform="translate(55.40,181.51) scale(1,1.07)" text-anchor="end" font-size="17.6">10<tspan font-size="12.2" dy="-6.45">11</tspan><tspan dy="6.45">​</tspan></text>
<text transform="translate(55.40,114.17) scale(1,1.07)" text-anchor="end" font-size="17.6">10<tspan font-size="12.2" dy="-6.45">15</tspan><tspan dy="6.45">​</tspan></text>
<text transform="translate(769.40,55.04) scale(1,1.07)" text-anchor="start" font-size="17.6">10<tspan font-size="12.2" dy="-6.45">0</tspan><tspan dy="6.45">​</tspan></text>
<text transform="translate(769.40,105.54) scale(1,1.07)" text-anchor="start" font-size="17.6">10<tspan font-size="12.2" dy="-6.45">−3</tspan><tspan dy="6.45">​</tspan></text>
<text transform="translate(769.40,156.04) scale(1,1.07)" text-anchor="start" font-size="17.6">10<tspan font-size="12.2" dy="-6.45">−6</tspan><tspan dy="6.45">​</tspan></text>
<text transform="translate(769.40,206.54) scale(1,1.07)" text-anchor="start" font-size="17.6">10<tspan font-size="12.2" dy="-6.45">−9</tspan><tspan dy="6.45">​</tspan></text>
<text transform="translate(769.40,257.03) scale(1,1.07)" text-anchor="start" font-size="17.6">10<tspan font-size="12.2" dy="-6.45">−12</tspan><tspan dy="6.45">​</tspan></text>
<text transform="translate(769.40,307.53) scale(1,1.07)" text-anchor="start" font-size="17.6">10<tspan font-size="12.2" dy="-6.45">−15</tspan><tspan dy="6.45">​</tspan></text>
<text transform="translate(412.80,12.50) scale(1,1.04)" text-anchor="middle" font-size="17.0">M (g)</text>
<text transform="translate(384.50,367.80) scale(1,1.04)" text-anchor="start" font-size="17.0">M <tspan font-weight="normal" font-size="16" dx="0.6">(</tspan><tspan font-style="italic" dx="-0.2">M</tspan><tspan font-size="13.0" dy="5.67" font-weight="normal">⊙</tspan><tspan dy="-5.67">​</tspan><tspan font-weight="normal" font-size="16" dx="0.3">)</tspan></text>
<text transform="translate(13.40,185.60) rotate(-90) scale(1,1.04)" text-anchor="middle" font-size="17.0"><tspan font-style="italic">R</tspan><tspan font-size="12.5" dy="2.69">sh</tspan><tspan dy="-2.69">​</tspan> (cm)</text>
<text transform="translate(825.30,185.50) rotate(-90) scale(1,1.04)" text-anchor="middle" font-size="17.0"><tspan font-style="italic">R</tspan><tspan font-size="12.5" dy="2.69">sh</tspan><tspan dy="-2.69">​</tspan> (pc)</text>
</g>
</svg>
</body></html>
